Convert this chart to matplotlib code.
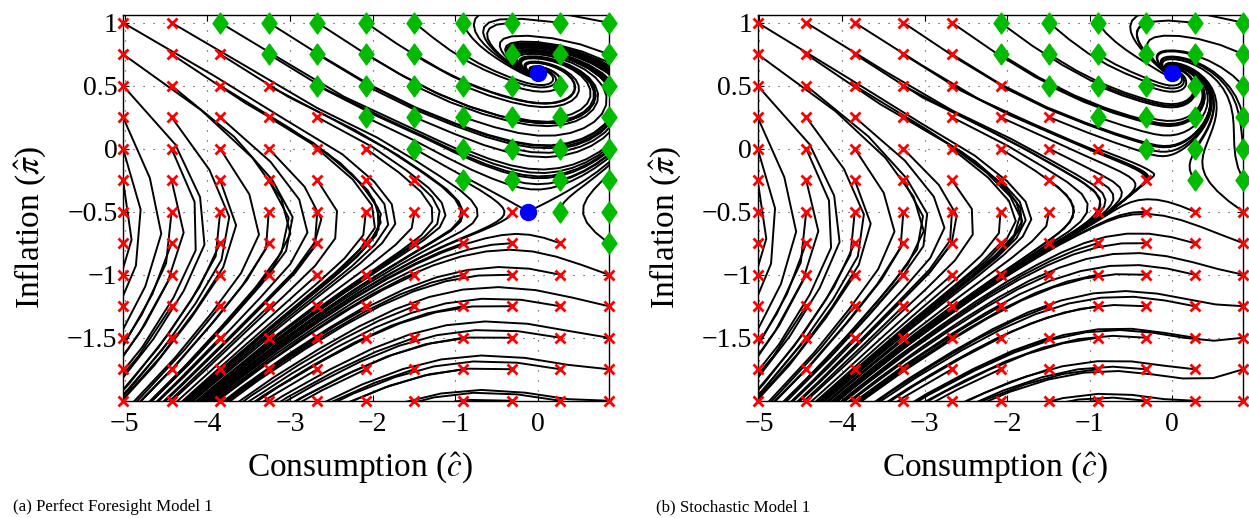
import numpy as np
import matplotlib.pyplot as plt
from matplotlib.path import Path

plt.rcParams['font.family'] = ['Liberation Serif', 'DejaVu Serif']
plt.rcParams['mathtext.fontset'] = 'stix'

# starting grid (consumption, inflation)
c_grid = [-5.02, -4.432, -3.844, -3.256, -2.668, -2.08, -1.492, -0.904, -0.316, 0.272, 0.86]
pi_grid = [1.0, 0.75, 0.5, 0.25, 0.0, -0.25, -0.5, -0.75, -1.0, -1.25, -1.5, -1.75, -2.0]

# per row (top to bottom): how many points from the left do not converge
n_red_a = [2, 3, 4, 5, 6, 7, 9, 10, 11, 11, 11, 11, 11]
n_red_b = [5, 5, 6, 7, 8, 9, 11, 11, 11, 11, 11, 11, 11]

# steady states
ss_c_a = [0.0, -0.12]
ss_pi_a = [0.6, -0.5]
ss_c_b = [0.0]
ss_pi_b = [0.6]

# consumption drift away from the steady states, columns at fixed consumption
drift_c = [-5.1, -3.0, -1.0]
drift_pi = [-2.0, -1.5, -1.0, -0.7, -0.5, -0.25, 0.0, 0.25, 0.5, 1.0]
drift_far = [-2.5, -1.5, -0.9, -0.3, 0.6, 0.8, 0.9, 1.8, 4.0, 6.0]
drift_mid = [-2.5, -2.0, -1.4, -0.5, 0.8, 1.4, 2.4, 4.0, 3.0, 2.6]
drift_near_a = [-1.5, -1.5, -1.3, -1.0, 0.1, 1.1, 1.5, 2.0, 1.5, 0.6]
drift_near_b = [-1.5, -1.5, -1.3, -0.8, 0.3, 1.4, 1.8, 2.0, 1.5, 0.6]

# law of motion: spiral sink P, saddle S with eigen slopes su / ss
model_a = dict(P=(0.0, 0.6), S=(-0.12, -0.5), su=0.31, ss=-0.38,
               lam_u=1.0, lam_s=-1.3, alpha_p=-0.85, near=drift_near_a)
model_b = dict(P=(0.0, 0.6), S=(-0.18, -0.2), su=0.45, ss=-0.42,
               lam_u=0.7, lam_s=-1.15, alpha_p=-0.9, near=drift_near_b)


def drift(x, y, near):
    cols = np.array([np.interp(y, drift_pi, col) for col in (drift_far, drift_mid, near)])
    xi = np.clip(x, drift_c[0], drift_c[-1])
    j = np.clip(np.searchsorted(drift_c, xi) - 1, 0, len(drift_c) - 2)
    x0, x1 = np.take(drift_c, j), np.take(drift_c, j + 1)
    t = (xi - x0) / (x1 - x0)
    idx = np.arange(x.size)
    return cols[j, idx] * (1 - t) + cols[j + 1, idx] * t


def make_field(P, S, su, ss, lam_u, lam_s, alpha_p, near, kg=2.0, e=0.36):
    (xp, yp), (xs, ys) = P, S
    m = (xp - xs) / (yp - ys)
    V = np.array([[1 - m * su, 1 - m * ss], [su, ss]])
    J = V @ np.diag([lam_u, lam_s]) @ np.linalg.inv(V)
    alpha_s, beta = J[0, 0], J[0, 1] / (ys - yp)
    gamma, delta = J[1, 0], J[1, 1] / (ys - yp)

    def f(x, y):
        w = x - xs - m * (y - ys)
        below = np.clip(ys - y, 0, None)
        g = (y - yp) * (y - ys) / (1 + kg * below ** 2)
        a = alpha_s + (y - ys) / (yp - ys) * (alpha_p - alpha_s)
        a = np.clip(a, -1.5, 0.2)
        dy = gamma * w + delta * g - e * np.clip(w, 0, None) ** 2 * below
        dx_loc = a * w + beta * g + m * dy
        wl = np.clip(w, None, 0)
        s = wl ** 2 / (wl ** 2 + 0.5)
        dx = (1 - s) * dx_loc + s * drift(x, y, near)
        return dx, dy
    return f


def trace(f, x0, y0, dt=0.025, n=1600, every=10):
    x, y = x0.astype(float), y0.astype(float)
    alive = np.ones_like(x, bool)
    xs, ys = [x.copy()], [y.copy()]
    for k in range(1, n + 1):
        k1 = f(x, y)
        k2 = f(x + dt / 2 * k1[0], y + dt / 2 * k1[1])
        k3 = f(x + dt / 2 * k2[0], y + dt / 2 * k2[1])
        k4 = f(x + dt * k3[0], y + dt * k3[1])
        nx = x + dt / 6 * (k1[0] + 2 * k2[0] + 2 * k3[0] + k4[0])
        ny = y + dt / 6 * (k1[1] + 2 * k2[1] + 2 * k3[1] + k4[1])
        x = np.where(alive, nx, x)
        y = np.where(alive, ny, y)
        alive &= (x > -8) & (x < 3) & (y > -3.5) & (y < 3)
        if k % every == 0:
            xs.append(np.where(alive, x, np.nan))
            ys.append(np.where(alive, y, np.nan))
    return np.array(xs), np.array(ys)


diamond = Path([(0, 1), (0.72, 0), (0, -1), (-0.72, 0), (0, 1)],
               [Path.MOVETO, Path.LINETO, Path.LINETO, Path.LINETO, Path.CLOSEPOLY])


def panel(ax, model, n_red, ss_c, ss_pi):
    C, PI = np.meshgrid(c_grid, pi_grid)
    f = make_field(**model)
    tx, ty = trace(f, C.ravel(), PI.ravel())
    for i in range(tx.shape[1]):
        ax.plot(tx[:, i], ty[:, i], color='k', lw=1.4, zorder=2)

    red = np.array([[j < n for j in range(len(c_grid))] for n in n_red])
    ax.plot(C[red], PI[red], 'x', color='red', ms=7.5, mew=2.0, zorder=4, clip_on=False)
    ax.plot(C[~red], PI[~red], marker=diamond, ls='none', color='#00bb00',
            ms=15, zorder=4, clip_on=False)
    ax.plot(ss_c, ss_pi, 'o', color='blue', ms=11.5, zorder=5)

    ax.set_xlim(-5.02, 0.86)
    ax.set_ylim(-2.0, 1.061)
    ax.set_xticks([-5, -4, -3, -2, -1, 0])
    ax.set_xticklabels(['\u22125', '\u22124', '\u22123', '\u22122', '\u22121', '0'])
    ax.set_yticks([1, 0.5, 0, -0.5, -1, -1.5])
    ax.set_yticklabels(['1', '0.5', '0', '\u22120.5', '\u22121', '\u22121.5'])
    ax.grid(True, color='0.2', linestyle=(0, (1, 8)), lw=0.8)
    ax.set_axisbelow(True)
    ax.tick_params(direction='in', length=4, top=True, right=True,
                   labelsize=20, pad=8)
    ax.tick_params(axis='y', pad=4)
    for s in ax.spines.values():
        s.set_linewidth(1.0)
        s.set_zorder(3)

    ax.set_xlabel('Consumption ($\\hat{c}$)', fontsize=24)
    ax.xaxis.set_label_coords(0.488, -0.197)
    ax.xaxis.label.set_va('baseline')
    ax.set_ylabel('Inflation ($\\hat{\\pi}$)', fontsize=24)
    ax.yaxis.set_label_coords(-0.19, 0.45)
    ax.yaxis.label.set_va('center')


fig = plt.figure(figsize=(12.49, 5.18), dpi=100)
ax1 = fig.add_axes([0.0985, 0.2264, 0.3889, 0.7446])
ax2 = fig.add_axes([0.6066, 0.2264, 0.3889, 0.7446])

panel(ax1, model_a, n_red_a, ss_c_a, ss_pi_a)
panel(ax2, model_b, n_red_b, ss_c_b, ss_pi_b)

fig.text(0.0105, 0.021, '(a) Perfect Foresight Model 1', fontsize=12.2, va='center')
fig.text(0.5255, 0.021, '(b) Stochastic Model 1', fontsize=12.2, va='center')

fig.savefig('out.png', dpi=100)
